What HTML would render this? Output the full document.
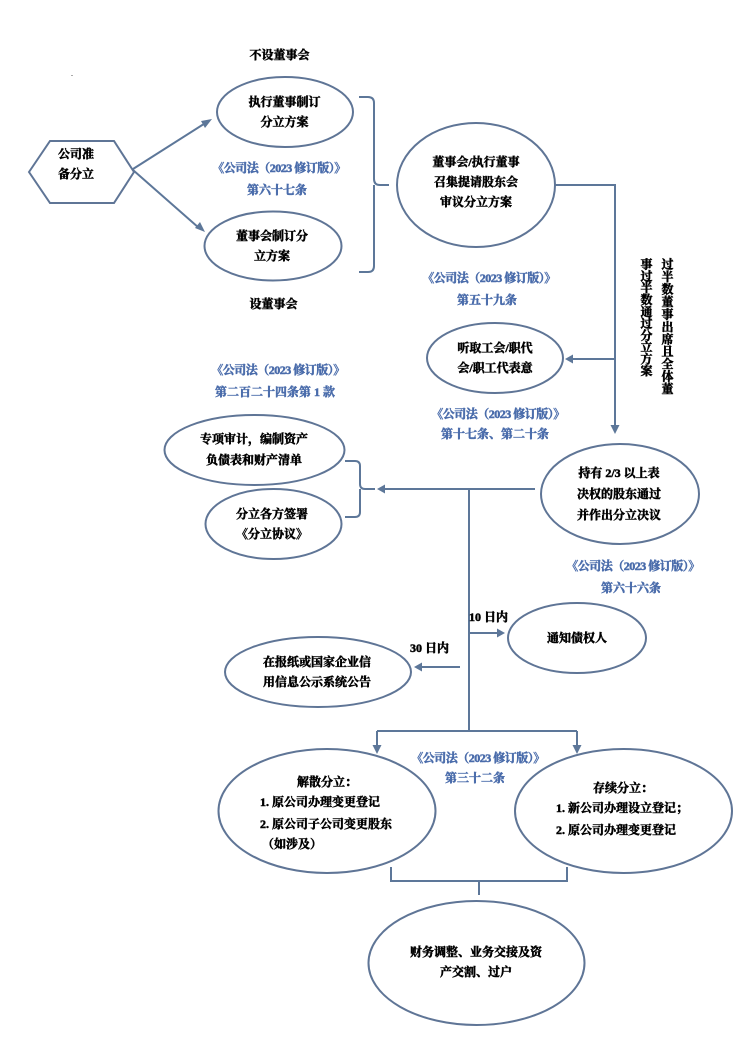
<!DOCTYPE html>
<html lang="zh"><head><meta charset="utf-8"><title>公司分立流程</title>
<style>
html,body{margin:0;padding:0;background:#fff;width:746px;height:1052px;overflow:hidden}
svg{display:block;filter:blur(.35px)}
text{font-family:"Liberation Serif","Noto Serif CJK SC",serif;font-size:12px;font-weight:700;fill:#000;stroke:#000;stroke-width:.5px}
.b{fill:#4a6cab;stroke:#4a6cab;letter-spacing:-.5px}
.c{fill:#4a6cab;stroke:#4a6cab}
.m{text-anchor:middle}
.s{fill:none;stroke:#5d7799;stroke-width:2}
.e{fill:#fff;stroke:#5f7596;stroke-width:2}
.a{fill:#5d7799;stroke:none}
</style></head><body>
<svg width="746" height="1052" viewBox="0 0 746 1052" xmlns="http://www.w3.org/2000/svg">
<rect width="746" height="1052" fill="#fff"/>
<rect x="71" y="75" width="2" height="1" fill="#aaa"/>

<!-- connectors -->
<path class="s" d="M133 169L207 122M133 170L199 228"/>
<path class="a" d="M212 119L205 128L201 121ZM205 232L195 228L200 222Z"/>
<path class="s" d="M359 97H368Q374 97 374 103V179Q374 185 380 185H389M374 185V266Q374 272 368 272H359"/>
<path class="s" d="M555 185H615V426M615 359H571"/>
<path class="a" d="M615 434L610.500 425H619.500ZM565 359L573 354.500V363.500Z"/>
<path class="s" d="M345 461H355Q360 461 360 466V484Q360 489 365 489H375M360 489V512Q360 517 355 517H345"/>
<path class="s" d="M535 489H383M469 489V731M469 633H499M460 667H420"/>
<path class="a" d="M377 489L385 484.500V493.500ZM505 633L497 628.500V637.500ZM414 667L422 662.500V671.500Z"/>
<path class="s" d="M377 731H577M377 731V747M577 731V747"/>
<path class="a" d="M377 754L372.500 745H381.500ZM577 754L572.500 745H581.500Z"/>
<path class="s" d="M391 867V881H567V867M479 881V895"/>

<!-- nodes -->
<polygon class="e" points="29,172 50,141 114,141 134,172 114,203 50,203"/>
<ellipse class="e" cx="285" cy="112" rx="68" ry="35"/>
<ellipse class="e" cx="273" cy="246" rx="68.500" ry="34.500"/>
<ellipse class="e" cx="476" cy="185" rx="79" ry="62"/>
<ellipse class="e" cx="495" cy="358" rx="68" ry="35"/>
<ellipse class="e" cx="620" cy="494" rx="79" ry="50"/>
<ellipse class="e" cx="254.500" cy="450" rx="90" ry="35"/>
<ellipse class="e" cx="273.500" cy="524" rx="68" ry="35"/>
<ellipse class="e" cx="577" cy="638" rx="69" ry="35"/>
<ellipse class="e" cx="318" cy="672" rx="93" ry="35"/>
<ellipse class="e" cx="327" cy="811" rx="108.500" ry="62"/>
<ellipse class="e" cx="623.500" cy="811" rx="108.500" ry="62"/>
<ellipse class="e" cx="476.500" cy="963" rx="108" ry="62"/>

<!-- black labels -->
<text class="m" x="279.500" y="59">不设董事会</text>
<text class="m" x="76" y="158">公司准</text>
<text class="m" x="76" y="178">备分立</text>
<text class="m" x="284.500" y="106">执行董事制订</text>
<text class="m" x="284.500" y="126">分立方案</text>
<text class="m" x="272" y="240">董事会制订分</text>
<text class="m" x="272" y="260">立方案</text>
<text class="m" x="273.500" y="308">设董事会</text>
<text class="m" x="476" y="166">董事会/执行董事</text>
<text class="m" x="476" y="186">召集提请股东会</text>
<text class="m" x="476" y="206">审议分立方案</text>
<text class="m" x="495" y="352">听取工会/职代</text>
<text class="m" x="495" y="372">会/职工代表意</text>
<text class="m" x="254" y="443">专项审计，编制资产</text>
<text class="m" x="254" y="464">负债表和财产清单</text>
<text class="m" x="272" y="518">分立各方签署</text>
<text class="m" x="272" y="538">《分立协议》</text>
<text class="m" x="619" y="477">持有 2/3 以上表</text>
<text class="m" x="619" y="498">决权的股东通过</text>
<text class="m" x="619" y="519">并作出分立决议</text>
<text x="469" y="621">10 日内</text>
<text x="410" y="652">30 日内</text>
<text class="m" x="577" y="642">通知债权人</text>
<text class="m" x="317" y="666">在报纸或国家企业信</text>
<text class="m" x="317" y="686">用信息公示系统公告</text>
<text x="297" y="786">解散分立：</text>
<text x="260" y="806">1. 原公司办理变更登记</text>
<text x="260" y="828">2. 原公司子公司变更股东</text>
<text x="262" y="848">（如涉及）</text>
<text x="593" y="792">存续分立：</text>
<text x="556" y="812">1. 新公司办理设立登记；</text>
<text x="556" y="834">2. 原公司办理变更登记</text>
<text class="m" x="476" y="956">财务调整、业务交接及资</text>
<text class="m" x="476" y="976">产交割、过户</text>

<!-- vertical labels -->
<text style="writing-mode:vertical-rl;letter-spacing:.45px" x="667" y="258">过半数董事出席且全体董</text>
<text style="writing-mode:vertical-rl;letter-spacing:-.2px" x="646" y="258">事过半数通过分立方案</text>

<!-- blue references -->
<text class="b m" x="279" y="172">《公司法（2023 修订版）》</text>
<text class="c m" x="277" y="194">第六十七条</text>
<text class="b m" x="489" y="282">《公司法（2023 修订版）》</text>
<text class="c m" x="487" y="304">第五十九条</text>
<text class="b m" x="278" y="374">《公司法（2023 修订版）》</text>
<text class="c m" x="275" y="396">第二百二十四条第 1 款</text>
<text class="b m" x="498" y="418">《公司法（2023 修订版）》</text>
<text class="c m" x="495" y="438">第十七条、第二十条</text>
<text class="b m" x="633" y="570">《公司法（2023 修订版）》</text>
<text class="c m" x="631" y="592">第六十六条</text>
<text class="b m" x="478" y="762">《公司法（2023 修订版）》</text>
<text class="c m" x="475" y="782">第三十二条</text>
</svg>
</body></html>
